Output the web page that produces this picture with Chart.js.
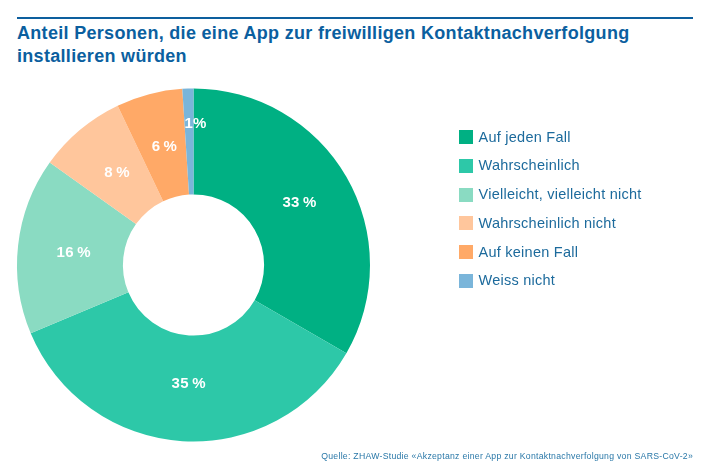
<!DOCTYPE html>
<html>
<head>
<meta charset="utf-8">
<script src="https://cdn.jsdelivr.net/npm/chart.js@4"></script>
<style>
  html, body { margin: 0; padding: 0; background: #fff; }
  body { position: relative; width: 710px; height: 475px; overflow: hidden; font-family: "Liberation Sans", Arial, sans-serif; }
  #rule { position: absolute; left: 17px; top: 17px; width: 676px; height: 2px; background: #0d5f9e; }
  #title { position: absolute; left: 17px; top: 21.5px; font-size: 18px; line-height: 23px; font-weight: bold; color: #0b5f9f; letter-spacing: 0.31px; white-space: nowrap; }
  #source { position: absolute; right: 17px; top: 451px; font-size: 8.7px; color: #2a78a8; letter-spacing: 0.27px; white-space: nowrap; }
  #legend { position: absolute; left: 459px; top: 125.5px; }
  .item { position: relative; height: 28.8px; font-size: 14.5px; line-height: 22px; color: #1c6a9c; letter-spacing: 0.25px; white-space: nowrap; padding-left: 19.5px; }
  .item i { position: absolute; left: 0; top: 4.5px; width: 14px; height: 14px; }
  canvas { position: absolute; left: 0; top: 0; }
</style>
</head>
<body>
<div id="rule"></div>
<div id="title">Anteil Personen, die eine App zur freiwilligen Kontaktnachverfolgung<br>installieren würden</div>
<canvas id="pieChart" width="710" height="475"></canvas>
<div id="legend"></div>
<div id="source">Quelle: ZHAW-Studie «Akzeptanz einer App zur Kontaktnachverfolgung von SARS-CoV-2»</div>
<script>
const categories = ['Auf jeden Fall', 'Wahrscheinlich', 'Vielleicht, vielleicht nicht', 'Wahrscheinlich nicht', 'Auf keinen Fall', 'Weiss nicht'];
const shares = [33, 35, 16, 8, 6, 1];
const colors = ['#00b083', '#2dc8a8', '#8adbc2', '#ffc69c', '#ffa967', '#7ab5da'];

// small nudges to the label spots, the 1% one sits further out than the others
const labelShift = [[-1, 0], [3, -4], [3, 2], [3, 3], [2, 1], [6, -18]];

const sliceLabels = {
    id: 'sliceLabels',
    afterDatasetsDraw(chart) {
        const ctx = chart.ctx;
        ctx.save();
        ctx.fillStyle = '#fff';
        ctx.font = 'bold 15px "Liberation Sans", Arial, sans-serif';
        ctx.letterSpacing = '0.3px';
        ctx.textAlign = 'center';
        ctx.textBaseline = 'middle';
        chart.getDatasetMeta(0).data.forEach((arc, i) => {
            const p = arc.getCenterPoint();
            const gap = i === 5 ? '' : '\u2009';
            ctx.fillText(shares[i] + gap + '%', p.x + labelShift[i][0], p.y + labelShift[i][1]);
        });
        ctx.restore();
    }
};

new Chart(document.getElementById('pieChart').getContext('2d'), {
    type: 'doughnut',
    data: {
        labels: categories,
        datasets: [{ data: shares, backgroundColor: colors, borderWidth: 0 }]
    },
    options: {
        responsive: false,
        animation: false,
        cutout: '40%',
        layout: { padding: { left: 17, right: 340, top: 88, bottom: 33 } },
        plugins: { legend: { display: false }, tooltip: { enabled: false } }
    },
    plugins: [sliceLabels]
});

// legend is plain html so it can stay clear of the pie
const legend = document.getElementById('legend');
categories.forEach((name, i) => {
    const row = document.createElement('div');
    row.className = 'item';
    row.innerHTML = '<i style="background:' + colors[i] + '"></i>' + name;
    legend.appendChild(row);
});
</script>
</body>
</html>
